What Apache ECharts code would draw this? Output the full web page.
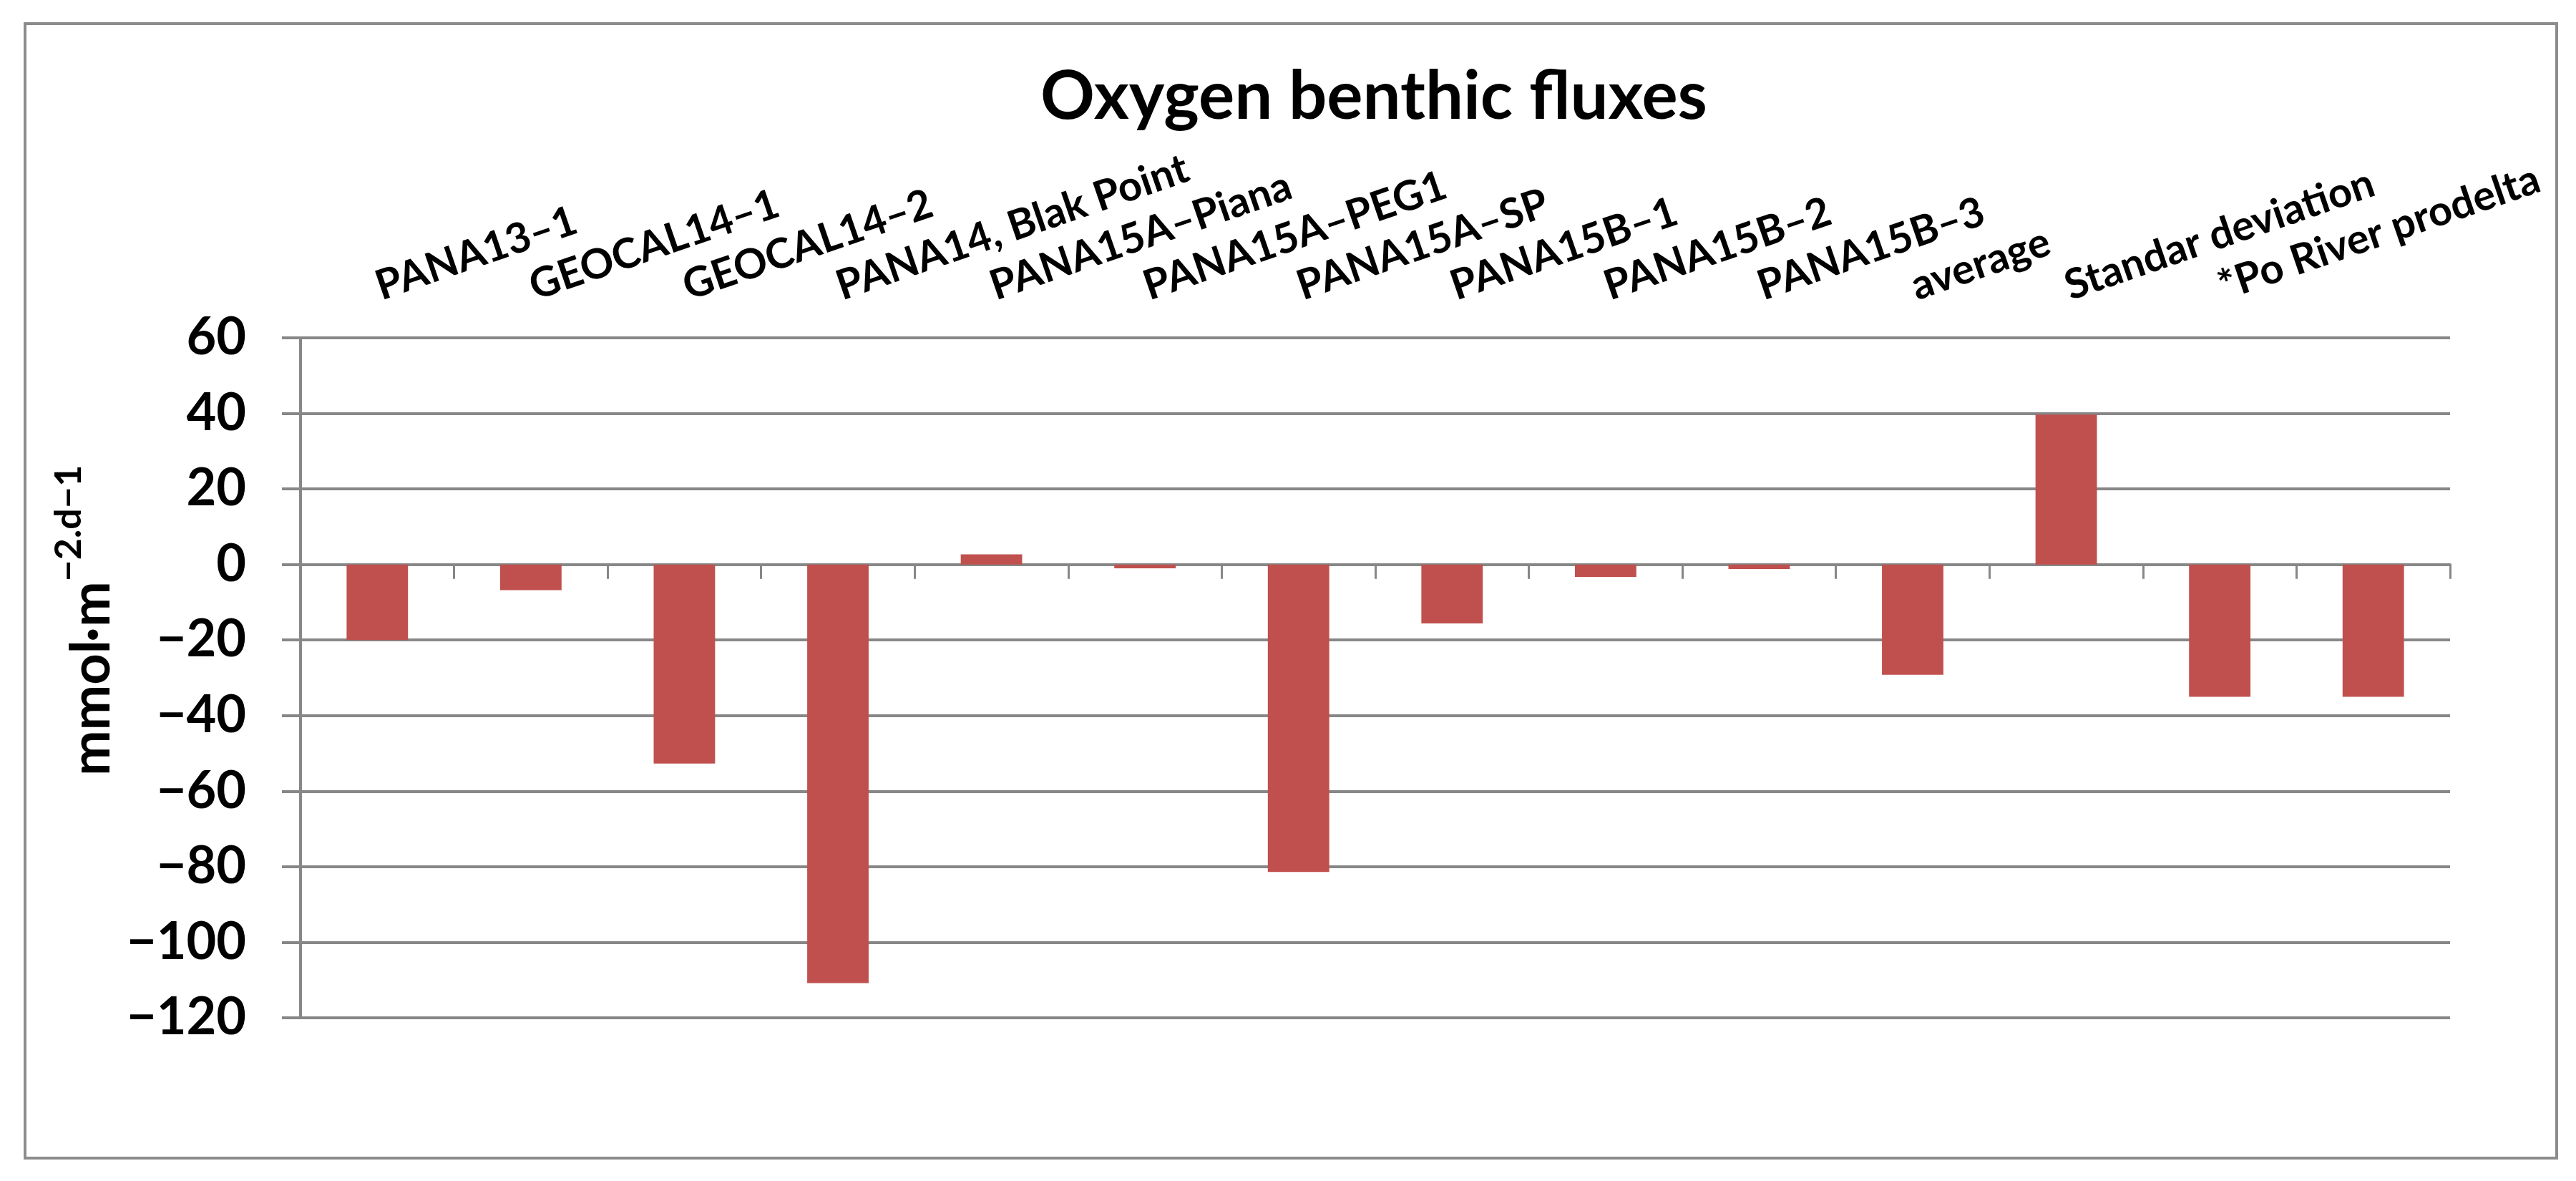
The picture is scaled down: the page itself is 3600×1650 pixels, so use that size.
<!DOCTYPE html>
<html>
<head>
<meta charset="utf-8">
<script src="https://cdn.jsdelivr.net/npm/echarts@6/dist/echarts.min.js"></script>
<style>
  html, body { margin: 0; padding: 0; background: #fff; }
  #chart { width: 3600px; height: 1650px; }
</style>
</head>
<body>
<div id="chart"></div>
<script>
// sites along the category axis (last bar has no label in the source)
const sites = ['PANA13–1', 'GEOCAL14–1', 'GEOCAL14–2', 'PANA14, Blak Point', 'PANA15A–Piana',
  'PANA15A–PEG1', 'PANA15A–SP', 'PANA15B–1', 'PANA15B–2', 'PANA15B–3',
  'average', 'Standar deviation', '*Po River prodelta', ''];
// oxygen flux, mmol m-2 d-1
const fluxes = [-20, -6.8, -52.7, -110.8, 2.7, -1.0, -81.4, -15.6, -3.3, -1.2, -29.2, 39.7, -35, -35];
const yMin = -120, yMax = 60, yStep = 20;

const gray = '#878787';
const font = 'Lato, "Open Sans", sans-serif';

let myChart = echarts.init(document.getElementById('chart'));

let option = {
    backgroundColor: '#fff',
    animation: false,
    title: {
        text: 'Oxygen benthic fluxes',
        left: 1915,
        textAlign: 'center',
        top: 84,
        textStyle: { fontFamily: font, fontWeight: 'bold', fontSize: 94, color: '#000' }
    },
    graphic: [{
        type: 'rect',
        shape: { x: 35, y: 33, width: 3538, height: 1585 },
        style: { fill: 'none', stroke: '#8c8c8c', lineWidth: 4 },
        z: -1
    }],
    grid: { left: 420, right: 176, top: 472, bottom: 228 },
    xAxis: [
        {
            type: 'category',
            data: sites,
            position: 'bottom',
            axisLine: { onZero: true, lineStyle: { color: gray, width: 4 } },
            axisTick: { show: true, length: 20, lineStyle: { color: gray, width: 3 } },
            axisLabel: { show: false },
            splitLine: { show: false }
        },
        {
            // labels sit above the plot like in the original
            type: 'category',
            data: sites,
            position: 'top',
            axisLine: { show: false, onZero: false },
            axisTick: { show: false },
            splitLine: { show: false },
            axisLabel: {
                interval: 0,
                rotate: -19,
                margin: 70,
                fontFamily: font,
                fontWeight: 'bold',
                fontSize: 58,
                color: '#000'
            }
        }
    ],
    yAxis: {
        type: 'value',
        min: yMin,
        max: yMax,
        interval: yStep,
        name: '{main|mmol·m}{sup|−2.d−1}',
        nameLocation: 'middle',
        nameRotate: 90,
        nameGap: 215,
        nameTextStyle: {
            rich: {
                main: { fontFamily: font, fontWeight: 'bold', fontSize: 76, color: '#000', lineHeight: 96, verticalAlign: 'bottom' },
                sup: { fontFamily: font, fontWeight: 'bold', fontSize: 52, color: '#000', lineHeight: 96, verticalAlign: 'top' }
            },
            padding: [0, 0, 0, 160]
        },
        axisLine: { show: true, lineStyle: { color: gray, width: 4 } },
        axisTick: { show: true, length: 26, lineStyle: { color: gray, width: 4 } },
        splitLine: { show: true, lineStyle: { color: gray, width: 4 } },
        axisLabel: {
            margin: 76,
            fontFamily: font,
            fontWeight: 'bold',
            fontSize: 72,
            color: '#000',
            formatter: function (v) {
                return String(v).replace('-', '−');
            }
        }
    },
    series: [
        {
            name: 'O2 flux',
            type: 'bar',
            xAxisIndex: 0,
            barWidth: '40%',
            itemStyle: { color: '#C0504D' },
            data: fluxes
        }
    ]
};

myChart.setOption(option);
</script>
</body>
</html>
